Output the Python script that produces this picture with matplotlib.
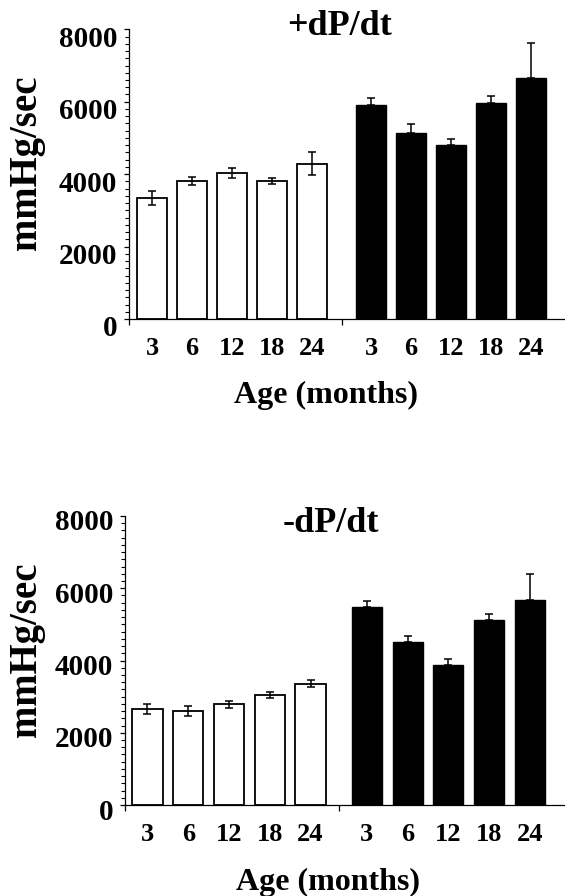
import matplotlib
matplotlib.use("Agg")
import matplotlib.pyplot as plt
import matplotlib.transforms as mtransforms
from matplotlib.ticker import MultipleLocator, FixedLocator, NullFormatter

ages = ["3", "6", "12", "18", "24"]

# +dP/dt
plus_white = [3350, 3800, 4030, 3820, 4290]
plus_white_err = [190, 110, 145, 85, 310]
plus_black = [5900, 5146, 4815, 5956, 6665]
plus_black_err = [210, 240, 150, 195, 965]

# -dP/dt
minus_white = [2655, 2610, 2785, 3045, 3355]
minus_white_err = [130, 140, 100, 95, 95]
minus_black = [5485, 4516, 3880, 5115, 5670]
minus_black_err = [166, 166, 166, 175, 720]

titles = ["+dP/dt", "-dP/dt"]
ylabel = "mmHg/sec"
xlabel = "Age (months)"

FONT = "Liberation Serif"
W, H = 565, 896
fig = plt.figure(figsize=(W / 100, H / 100), dpi=100)

panels = [
    dict(left=129.3, top=29.3, bottom=319, xlim=(-0.57, 10.32), gap=1.47, white=plus_white, werr=plus_white_err,
         black=plus_black, berr=plus_black_err, title=titles[0], tx=340, ty=35, lx=326, ly=403, yl=163, dy=-7),
    dict(left=125, top=516, bottom=805, xlim=(-0.55, 10.24), gap=1.38, white=minus_white, werr=minus_white_err,
         black=minus_black, berr=minus_black_err, title=titles[1], tx=331, ty=532, lx=328, ly=890, yl=650, dy=-4),
]

for p in panels:
    gap = p["gap"]
    xw = list(range(5))
    xb = [i + 4 + gap for i in range(5)]
    mid = (xw[-1] + xb[0]) / 2

    ax = fig.add_axes([p["left"] / W, 1 - p["bottom"] / H, (W - p["left"]) / W, (p["bottom"] - p["top"]) / H])
    ax.bar(xw, p["white"], width=0.74, color="white", edgecolor="black", linewidth=1.3, zorder=2)
    ax.errorbar(xw, p["white"], yerr=p["werr"], fmt="none", ecolor="black", elinewidth=1.1,
                capsize=3.2, capthick=1.1, zorder=3)
    ax.bar(xb, p["black"], width=0.74, color="black", edgecolor="black", linewidth=1.0, zorder=2)
    ax.errorbar(xb, p["black"], yerr=[[0] * 5, p["berr"]], fmt="none", ecolor="black", elinewidth=1.1,
                capsize=3.0, capthick=1.1, zorder=3)

    ax.set_xlim(*p["xlim"])
    ax.set_ylim(0, 8000)
    for s in ["top", "right"]:
        ax.spines[s].set_visible(False)
    for s in ["left", "bottom"]:
        ax.spines[s].set_linewidth(0.9)

    ax.yaxis.set_major_locator(MultipleLocator(2000))
    ax.yaxis.set_minor_locator(MultipleLocator(200))
    ax.tick_params(axis="y", which="major", direction="out", length=3.5, width=0.9, pad=5)
    ax.tick_params(axis="y", which="minor", direction="out", length=3.0, width=0.8)
    ax.set_yticks([0, 2000, 4000, 6000, 8000])
    ax.set_yticklabels(["0", "2000", "4000", "6000", "8000"], fontfamily=FONT, fontweight="bold", fontsize=21)
    off = mtransforms.ScaledTranslation(0, p["dy"] / 100, fig.dpi_scale_trans)
    for lab in ax.get_yticklabels():
        lab.set_transform(lab.get_transform() + off)

    ax.set_xticks(xw + xb)
    ax.set_xticklabels(ages + ages, fontfamily=FONT, fontweight="bold", fontsize=19)
    ax.tick_params(axis="x", which="major", length=0, pad=13)
    ax.xaxis.set_minor_locator(FixedLocator([p["xlim"][0], mid]))
    ax.xaxis.set_minor_formatter(NullFormatter())
    ax.tick_params(axis="x", which="minor", direction="out", length=4, width=0.9)

    fig.text(p["tx"] / W, 1 - p["ty"] / H, p["title"], ha="center", va="baseline",
             fontfamily=FONT, fontweight="bold", fontsize=26)
    fig.text(p["lx"] / W, 1 - p["ly"] / H, xlabel, ha="center", va="baseline",
             fontfamily=FONT, fontweight="bold", fontsize=23)
    fig.text(27 / W, 1 - p["yl"] / H, ylabel, ha="center", va="center", rotation=90,
             fontfamily=FONT, fontweight="bold", fontsize=28)

fig.savefig("out.png", dpi=100)
